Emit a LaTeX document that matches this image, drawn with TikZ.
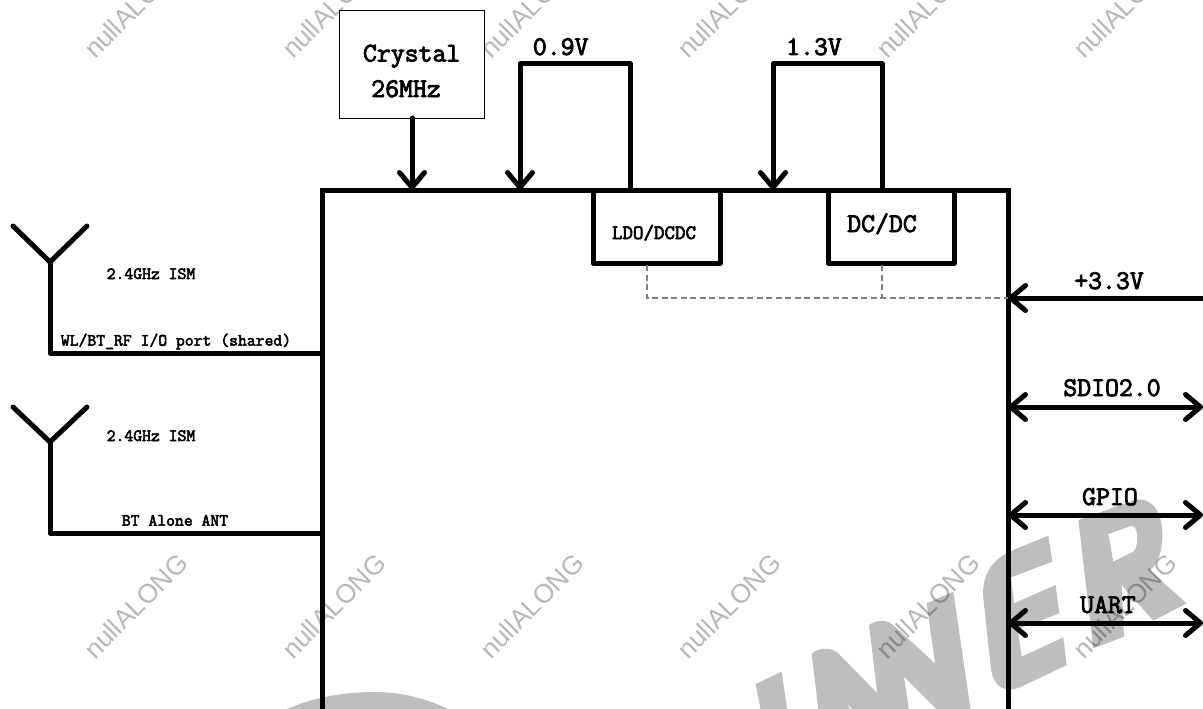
\documentclass[tikz,border=0pt]{standalone}
\usepackage{fontspec}
\usetikzlibrary{arrows.meta}
\newfontfamily\wmfont{Liberation Sans}
\newfontfamily\courfont{Latin Modern Mono}[FakeBold=3]
\definecolor{wmbig}{HTML}{BEBEBE}
\definecolor{dashgray}{HTML}{808080}
\tikzset{
  wire/.style={line width=5pt,line cap=round,line join=round,draw=black},
  arrowwire/.style={wire,-{Straight Barb[length=15pt,width=25pt,round,line width=5pt]}},
  biwire/.style={wire,{Straight Barb[length=15pt,width=25pt,round,line width=5pt]}-{Straight Barb[length=15pt,width=25pt,round,line width=5pt]}},
  hair/.style={line width=1.2pt,draw=dashgray,dash pattern=on 6pt off 3.5pt},
  blockbox/.style={draw=black,line width=5pt,fill=white,inner sep=0pt,outer sep=0pt,anchor=north west,line join=round},
  large label/.style={inner sep=0pt,outer sep=0pt,anchor=base,font=\fontsize{27}{27}\selectfont\courfont},
  small label/.style={inner sep=0pt,outer sep=0pt,anchor=base,font=\fontsize{17.2}{17.2}\selectfont\courfont},
  mid label/.style={inner sep=0pt,outer sep=0pt,anchor=base,font=\fontsize{20.4}{20.4}\selectfont\courfont},
  wmark/.style={inner sep=0pt,outer sep=0pt,anchor=base west,rotate=45,text=black,text opacity=.28,font=\fontsize{26.5}{26.5}\selectfont\wmfont},
}
\begin{document}
\begin{tikzpicture}[x=1pt,y=-1pt]
\useasboundingbox (0,0) rectangle (1203,709);
\clip (0,0) rectangle (1203,709);
% big background letters
\begin{scope}[shift={(720,350)},x=.33333pt,y=-.33333pt]
  \fill[wmbig,even odd rule]
    (1075,510) -- (1245,450) .. controls (1300,440) and (1325,490) .. (1327,550)
    .. controls (1328,600) and (1315,640) .. (1290,662) -- (1400,760) -- (1300,812)
    -- (1205,705) -- (1212,860) -- (1120,895) -- cycle
    (1165,552) -- (1235,527) .. controls (1255,525) and (1258,590) .. (1240,605) -- (1180,635) -- cycle;
  \fill[wmbig]
    (985,557) -- (880,600) .. controls (810,630) and (785,680) .. (790,745)
    -- (812,950) .. controls (820,1010) and (850,1030) .. (900,1012)
    -- (1040,945) -- (1030,862) -- (905,920) -- (893,838) -- (1018,790)
    -- (1007,705) -- (882,760) -- (873,682) -- (997,635) -- cycle;
\end{scope}
\begin{scope}[shift={(740,540)},x=.33333pt,y=-.33333pt]
  \fill[wmbig] (47,432) -- (125,395) -- (142,510) -- (62,510) -- cycle;
  \fill[wmbig] (215,340) .. controls (240,322) and (275,320) .. (297,342)
    -- (412,460) -- (387,255) .. controls (410,238) and (445,238) .. (465,260)
    -- (585,370) -- (560,190) -- (640,155) -- (692,510) -- (592,510) -- (492,410)
    -- (507,510) -- (338,510) -- (322,490) -- (330,510) -- (235,510) -- cycle;
\end{scope}
\fill[wmbig] (287,709) .. controls (315,697) and (345,692) .. (375,692)
  .. controls (400,692) and (425,698) .. (448,709) -- cycle;
% small watermarks
\foreach \wx in {95,293,491,688,887,1084}{
  \node[wmark] at (\wx,60) {nullALONG};
  \node[wmark] at (\wx,660) {nullALONG};
}
% blocks
\node[draw=black,line width=5pt,inner sep=0pt,outer sep=0pt,anchor=north west,minimum width=686pt,minimum height=620pt] (chip) at (322,190) {};
\node[blockbox,minimum width=127pt,minimum height=73pt] (ldo) at (593,190) {};
\node[blockbox,minimum width=126pt,minimum height=73pt] (dcdc) at (828,190) {};
\node[draw=black,line width=1pt,inner sep=0pt,outer sep=0pt,anchor=north west,fill=white,minimum width=144.5pt,minimum height=107.5pt] (xtal) at (339.5,10.5) {};
% coordinates
\coordinate (xtalin) at (412,190);
\coordinate (c09in) at (520,190);
\coordinate (c13in) at (773,190);
\coordinate (c09out) at (630,190);
\coordinate (c13out) at (882,190);
\coordinate (c09a) at (630,64);
\coordinate (c09b) at (520,64);
\coordinate (c13a) at (882,64);
\coordinate (c13b) at (773,64);
\coordinate (dl) at (647,265);
\coordinate (dlb) at (647,298);
\coordinate (dd) at (882,265);
\coordinate (ddb) at (882,298);
\coordinate (p33) at (1008,298);
\coordinate (e33) at (1203,298);
\coordinate (psd) at (1008,407);
\coordinate (esd) at (1203,407);
\coordinate (pgp) at (1008,515);
\coordinate (egp) at (1203,515);
\coordinate (pua) at (1008,623);
\coordinate (eua) at (1203,623);
\coordinate (ant1l) at (13,226);
\coordinate (ant1r) at (87,226);
\coordinate (ant1j) at (50,262);
\coordinate (ant1c) at (50,353);
\coordinate (ant1p) at (322,353);
\coordinate (ant2l) at (13,407);
\coordinate (ant2r) at (87,407);
\coordinate (ant2j) at (50,442);
\coordinate (ant2c) at (50,533);
\coordinate (ant2p) at (322,533);
% dashed supply
\draw[hair] (dl) -- (dlb) -- (p33);
\draw[hair] (dd) -- (ddb);
% connectors
\draw[arrowwire] (xtal.south -| xtalin) -- (xtalin);
\draw[arrowwire] (c09out) -- (c09a) -- (c09b) -- (c09in);
\draw[arrowwire] (c13out) -- (c13a) -- (c13b) -- (c13in);
\draw[arrowwire] (e33) -- (p33);
\draw[biwire] (psd) -- (esd);
\draw[biwire] (pgp) -- (egp);
\draw[biwire] (pua) -- (eua);
\draw[wire] (ant1l) -- (ant1j) -- (ant1r);
\draw[wire] (ant1j) -- (ant1c) -- (ant1p);
\draw[wire] (ant2l) -- (ant2j) -- (ant2r);
\draw[wire] (ant2j) -- (ant2c) -- (ant2p);
% labels
\node[large label] (t1) at (411.7,61.5) {Crystal};
\node[large label] (t2) at (406,97) {26MHz};
\node[large label] (t3) at (560.7,55) {0.9V};
\node[large label] (t4) at (814,55) {1.3V};
\node[mid label] (t5) at (654,239) {LDO/DCDC};
\node[large label] (t6) at (882,232) {DC/DC};
\node[large label] (t7) at (1109,289) {+3.3V};
\node[large label] (t8) at (1112,396) {SDIO2.0};
\node[large label] (t9) at (1110,505) {GPIO};
\node[large label] (t10) at (1108,613) {UART};
\node[small label] (t11) at (151,279) {2.4GHz ISM};
\node[small label] (t12) at (151,441) {2.4GHz ISM};
\node[small label] (t13) at (176,345.6) {WL/BT\_RF I/O port (shared)};
\node[small label] (t14) at (175,525.7) {BT Alone ANT};
\end{tikzpicture}
\end{document}
